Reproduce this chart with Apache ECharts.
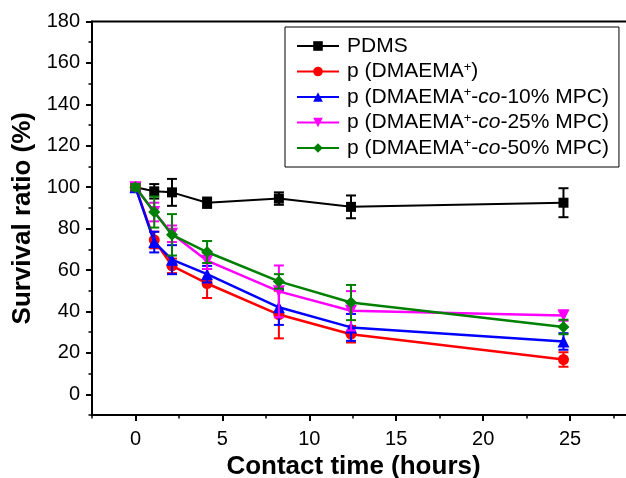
<!DOCTYPE html>
<html>
<head>
<meta charset="utf-8">
<script src="https://cdn.jsdelivr.net/npm/echarts@6/dist/echarts.min.js"></script>
<style>
html,body{margin:0;padding:0;background:#fff;}
#c{width:626px;height:478px;}
</style>
</head>
<body>
<div id="c"></div>
<script>
// Contact time (hours)
const xHours = [0, 1.08, 2.1, 4.12, 8.25, 12.4, 24.62];

const seriesNames = [
  'PDMS',
  'p (DMAEMA+)',
  'p (DMAEMA+-co-10% MPC)',
  'p (DMAEMA+-co-25% MPC)',
  'p (DMAEMA+-co-50% MPC)'
];
const legendLabels = [
  'PDMS',
  'p (DMAEMA{sup|+})',
  'p (DMAEMA{sup|+}-{it|co}-10% MPC)',
  'p (DMAEMA{sup|+}-{it|co}-25% MPC)',
  'p (DMAEMA{sup|+}-{it|co}-50% MPC)'
];

// Survival ratio (%)
const pdms      = [100, 98, 97.5, 92.5, 94.5, 90.5, 92.5];
const pdmsErr   = [2, 3.5, 6.5, 2.5, 3, 5.5, 7];
const dmaema    = [100, 74.5, 62, 53.5, 38.5, 29, 16.8];
const dmaemaErr = [1.5, 4, 3.5, 7, 11.5, 4, 3.5];
const mpc10     = [100, 73.5, 65, 58, 42, 32.3, 25.5];
const mpc10Err  = [1.5, 5, 7, 4, 8.5, 6.5, 4];
const mpc25     = [100, 88, 77.5, 64.5, 49.7, 40.3, 38];
const mpc25Err  = [1.5, 4.5, 4, 4, 12.5, 9.5, 2.5];
const mpc50     = [100, 88, 77, 68.7, 54.5, 44.3, 32.5];
const mpc50Err  = [1.5, 7.5, 10, 5.3, 3.5, 8.5, 3.5];

const colors  = ['#000000', '#ff0000', '#0000ff', '#ff00ff', '#008000'];
const symbols = ['rect', 'circle', 'triangle', 'triangle', 'diamond'];
const symRot  = [0, 0, 0, 180, 0];
const symSize = [10, 11, 12, 12, 12];
const lineW   = [2, 2.5, 2.5, 2.5, 2.5];
const values  = [pdms, dmaema, mpc10, mpc25, mpc50];
const errors  = [pdmsErr, dmaemaErr, mpc10Err, mpc25Err, mpc50Err];

const FONT = 'Arial, "Liberation Sans", sans-serif';

const series = [];
values.forEach((vals, i) => {
  series.push({
    type: 'custom',
    name: seriesNames[i] + ' err',
    xAxisIndex: 0, yAxisIndex: 0,
    z: 2 + i * 2,
    silent: true,
    data: vals.map((v, k) => [xHours[k], v, errors[i][k]]),
    encode: { x: 0, y: 1 },
    renderItem: function (params, api) {
      const x = api.value(0), y = api.value(1), e = api.value(2);
      const top = api.coord([x, y + e]);
      const bot = api.coord([x, y - e]);
      const cap = 5;
      const st = { stroke: colors[i], lineWidth: 2 };
      return {
        type: 'group',
        children: [
          { type: 'line', shape: { x1: top[0], y1: top[1], x2: bot[0], y2: bot[1] }, style: st },
          { type: 'line', shape: { x1: top[0] - cap, y1: top[1], x2: top[0] + cap, y2: top[1] }, style: st },
          { type: 'line', shape: { x1: bot[0] - cap, y1: bot[1], x2: bot[0] + cap, y2: bot[1] }, style: st }
        ]
      };
    }
  });
  series.push({
    type: 'line',
    name: seriesNames[i],
    xAxisIndex: 0, yAxisIndex: 0,
    z: 3 + i * 2,
    data: vals.map((v, k) => [xHours[k], v]),
    symbol: symbols[i],
    symbolRotate: symRot[i],
    symbolSize: symSize[i],
    showAllSymbol: true,
    itemStyle: { color: colors[i] },
    lineStyle: { color: colors[i], width: lineW[i] },
    animation: false
  });
});

const chart = echarts.init(document.getElementById('c'));
chart.setOption({
  animation: false,
  backgroundColor: '#ffffff',
  grid: [
    { left: 92, top: 21.5, right: -31, bottom: 63, show: true, borderColor: '#000', borderWidth: 2, containLabel: false, outerBoundsMode: 'none' },
    { left: 92, top: 21.5, right: -31, bottom: 63, show: false, containLabel: false, outerBoundsMode: 'none' }
  ],
  legend: {
    data: seriesNames,
    orient: 'vertical',
    left: 285, top: 27,
    padding: [8, 10, 8, 11],
    itemWidth: 42, itemHeight: 12,
    itemGap: 3.5,
    borderColor: '#000', borderWidth: 1,
    backgroundColor: '#fff',
    selectedMode: false,
    formatter: function (name) { return legendLabels[seriesNames.indexOf(name)]; },
    textStyle: {
      fontFamily: FONT, fontSize: 21, color: '#000', lineHeight: 22, padding: [0, 0, 0, 3],
      rich: {
        sup: { fontFamily: FONT, fontSize: 13, color: '#000', verticalAlign: 'top', lineHeight: 12 },
        it: { fontFamily: FONT, fontSize: 21, color: '#000', fontStyle: 'italic', lineHeight: 22 }
      }
    }
  },
  xAxis: [
    {
      type: 'value', gridIndex: 0, position: 'bottom',
      min: -2.5, max: 30, splitNumber: 7,
      name: 'Contact time (hours)', nameLocation: 'middle', nameGap: 31,
      nameTextStyle: { fontFamily: FONT, fontSize: 26, fontWeight: 'bold', color: '#000', padding: [0, 42, 0, 0] },
      axisLine: { show: true, onZero: false, lineStyle: { color: '#000', width: 2 } },
      axisTick: { show: true, inside: false, length: 6, lineStyle: { color: '#000', width: 2 } },
      minorTick: { show: false },
      splitLine: { show: false },
      axisLabel: { show: true, showMinLabel: false, margin: 14, fontFamily: FONT, fontSize: 20, color: '#000' }
    },
    {
      type: 'value', gridIndex: 1, position: 'bottom',
      min: -2.5, max: 30, interval: 2.5,
      axisLine: { show: false, onZero: false },
      axisTick: { show: true, inside: false, length: 3.5, lineStyle: { color: '#000', width: 1.5 } },
      splitLine: { show: false },
      axisLabel: { show: false }
    }
  ],
  yAxis: [
    {
      type: 'value', gridIndex: 0, position: 'left',
      min: -10, max: 180, splitNumber: 9,
      name: 'Survival ratio (%)', nameLocation: 'middle', nameGap: 50, nameRotate: 90,
      nameTextStyle: { fontFamily: FONT, fontSize: 26, fontWeight: 'bold', color: '#000' },
      axisLine: { show: true, onZero: false, lineStyle: { color: '#000', width: 2 } },
      axisTick: { show: true, inside: false, length: 6, lineStyle: { color: '#000', width: 2 } },
      minorTick: { show: false },
      splitLine: { show: false },
      axisLabel: { show: true, showMinLabel: false, margin: 12, fontFamily: FONT, fontSize: 20, color: '#000' }
    },
    {
      type: 'value', gridIndex: 1, position: 'left',
      min: -10, max: 180, interval: 10,
      axisLine: { show: false, onZero: false },
      axisTick: { show: true, inside: false, length: 3.5, lineStyle: { color: '#000', width: 1.5 } },
      splitLine: { show: false },
      axisLabel: { show: false }
    }
  ],
  series: series
});
</script>
</body>
</html>
